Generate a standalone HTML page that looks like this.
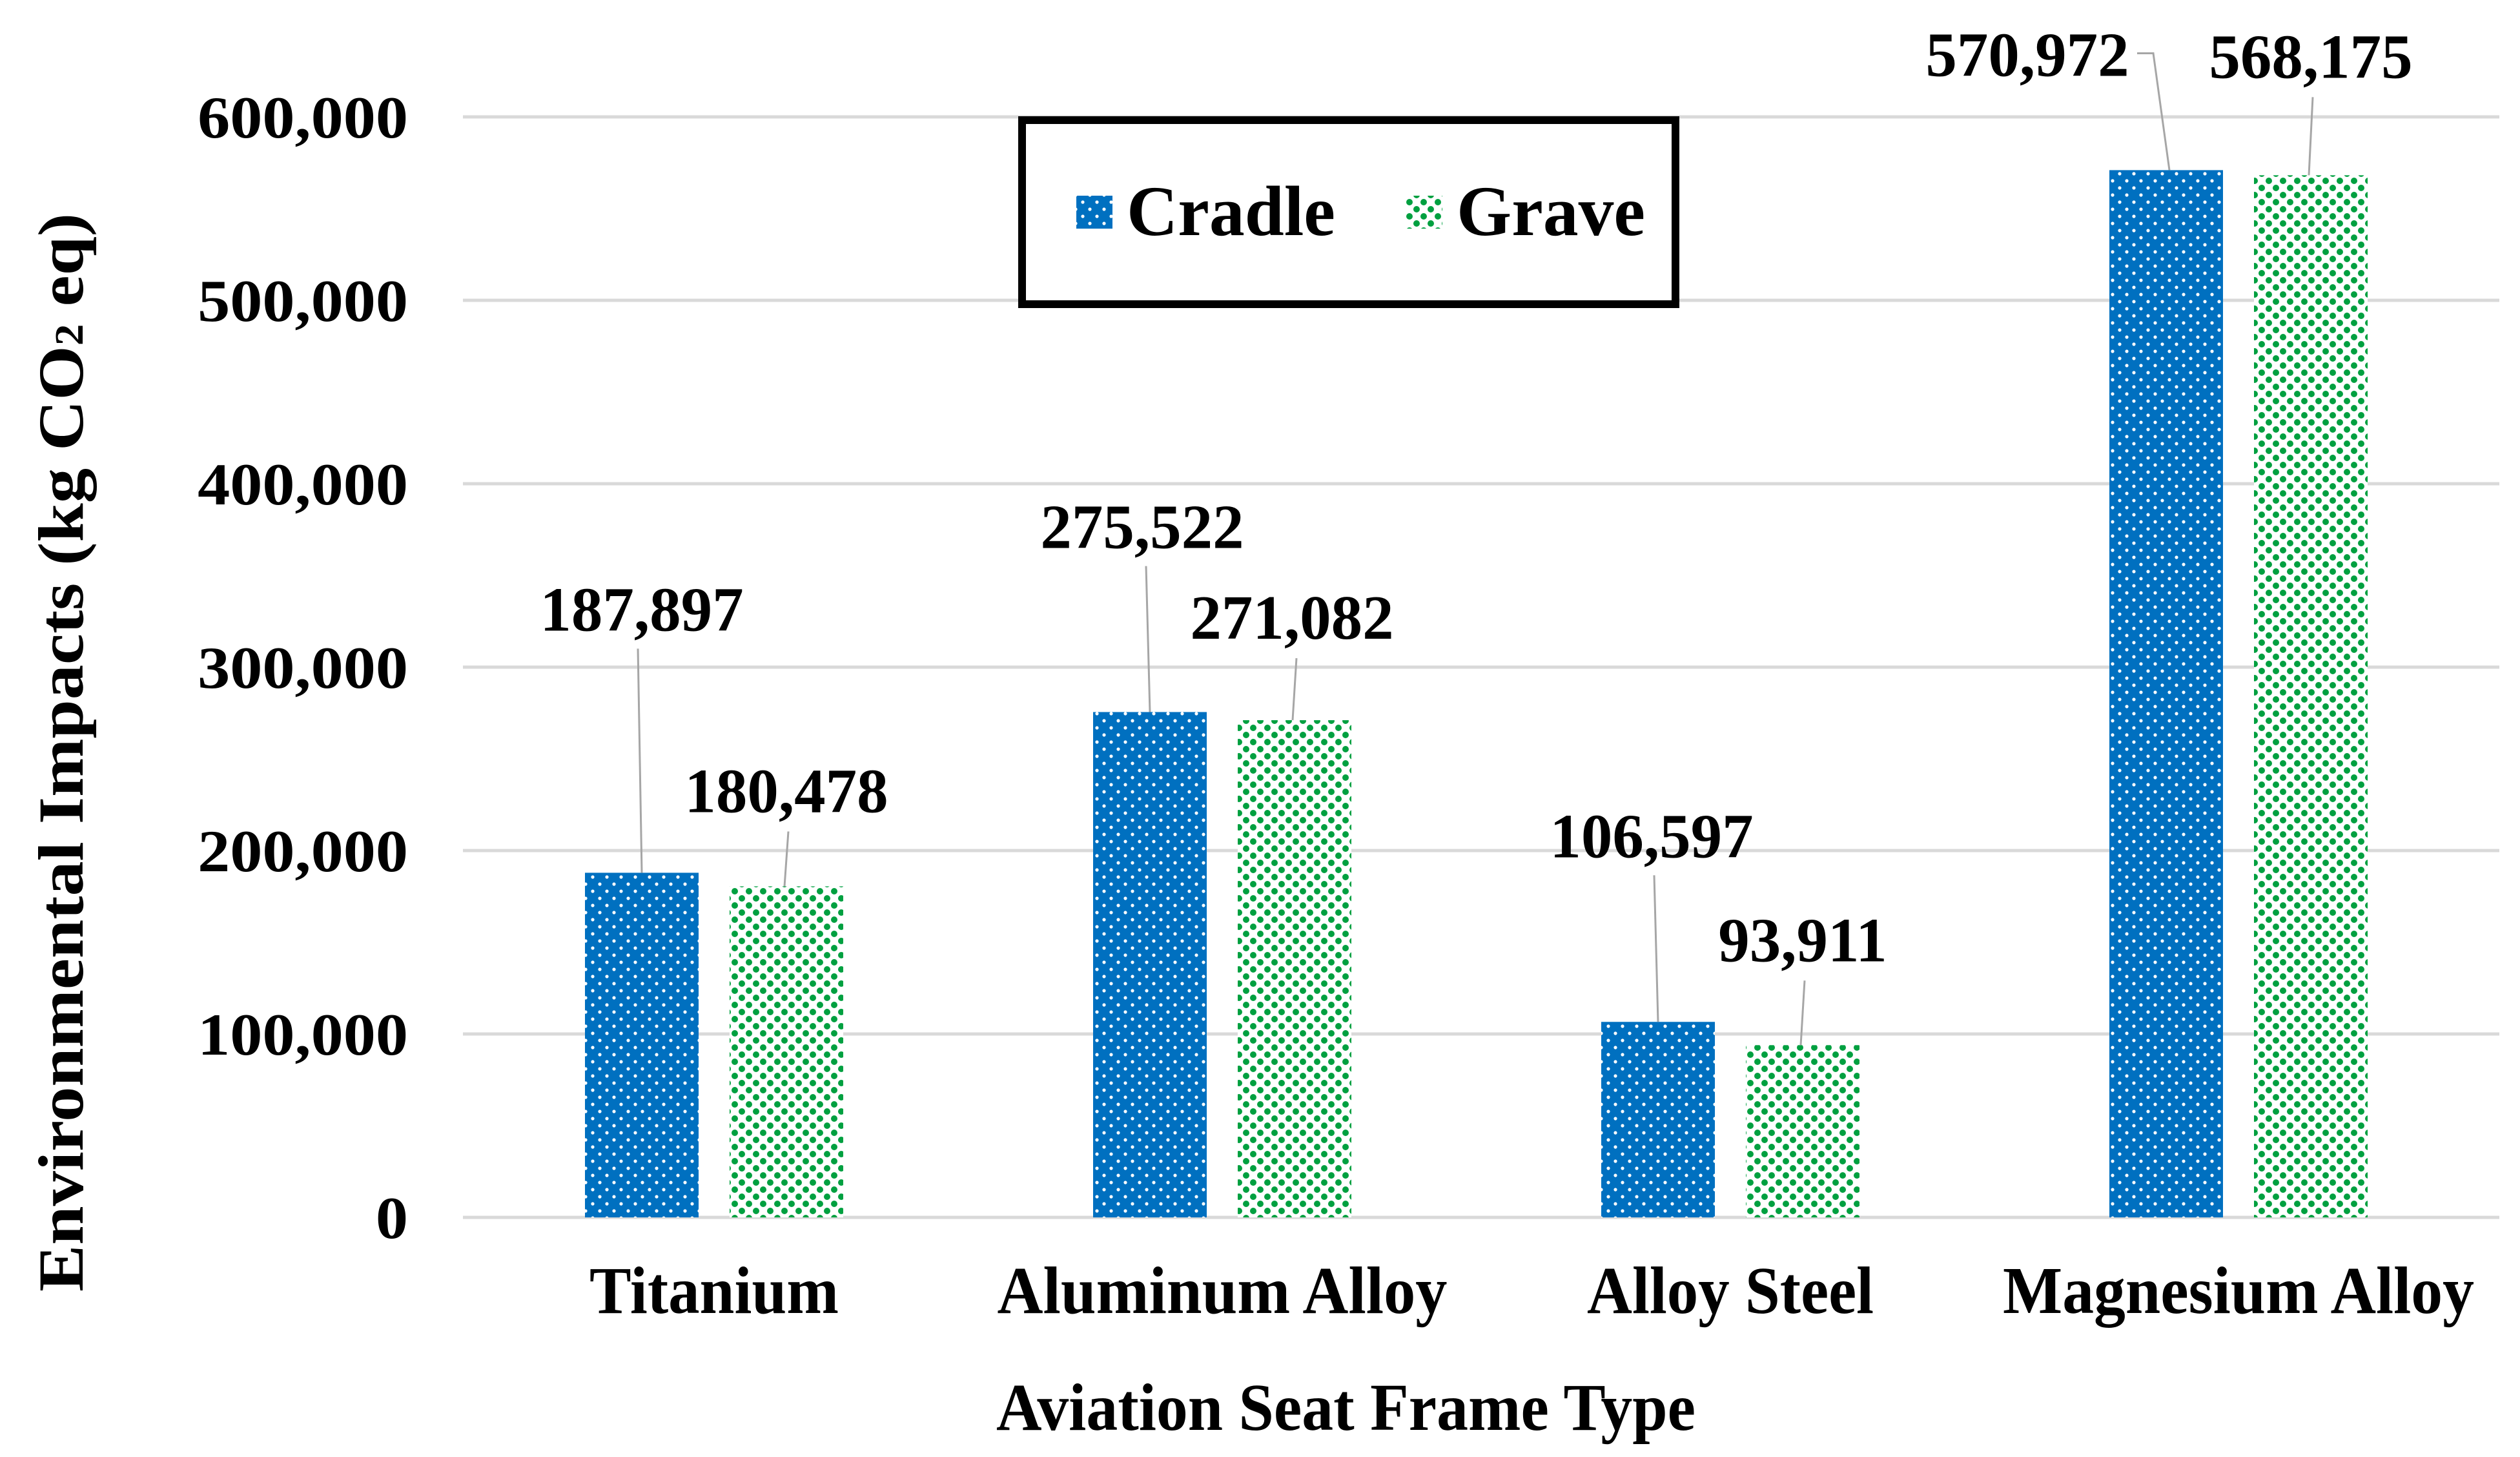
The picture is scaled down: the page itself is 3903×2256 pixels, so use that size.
<!DOCTYPE html>
<html><head><meta charset="utf-8"><style>
html,body{margin:0;padding:0;background:#fff;}
svg{display:block;}
text{font-family:"Liberation Serif",serif;font-weight:bold;fill:#000;}
</style></head><body>
<svg id="chart" width="3903" height="2256" viewBox="0 0 3903 2256" xmlns="http://www.w3.org/2000/svg">
<defs>
<pattern id="pBlue" patternUnits="userSpaceOnUse" width="22" height="22">
<rect width="22" height="22" fill="#0070C0"/>
<circle cx="5" cy="5" r="2.6" fill="#fff"/><circle cx="16" cy="16" r="2.6" fill="#fff"/>
</pattern>
<pattern id="pGreen" patternUnits="userSpaceOnUse" width="22" height="22">
<rect width="22" height="22" fill="#fff"/>
<circle cx="5" cy="5" r="5" fill="#00A040"/><circle cx="16" cy="16" r="5" fill="#00A040"/>
</pattern>
</defs>
<g id="grid"></g>
<g id="bars"></g>
<g id="labels"></g>
<g id="ticks"></g>
<g id="cats"></g>
<text x="1543" y="2214" font-size="104" textLength="1083" lengthAdjust="spacingAndGlyphs">Aviation Seat Frame Type</text>
<text transform="translate(128,1165) rotate(-90)" text-anchor="middle" font-size="100" textLength="1670" lengthAdjust="spacingAndGlyphs">Environmental Impacts (kg CO<tspan font-size="62">2</tspan> eq)</text>
<g>
<rect x="1583" y="186" width="1012" height="285" fill="#fff" stroke="#000" stroke-width="12"/>
<rect x="1667" y="303" width="56" height="51" fill="url(#pBlue)"/>
<text x="1745" y="364" font-size="110" textLength="323" lengthAdjust="spacingAndGlyphs">Cradle</text>
<rect x="2178" y="303" width="56" height="51" fill="url(#pGreen)"/>
<text x="2256" y="364" font-size="110" textLength="292" lengthAdjust="spacingAndGlyphs">Grave</text>
</g>
</svg>
<script>
const categories = ["Titanium", "Aluminum Alloy", "Alloy Steel", "Magnesium Alloy"];
const cradleValues = [187897, 275522, 106597, 570972];
const graveValues = [180478, 271082, 93911, 568175];
const tickValues = [0, 100000, 200000, 300000, 400000, 500000, 600000];
const tickLabels = ["0", "100,000", "200,000", "300,000", "400,000", "500,000", "600,000"];

const NS = "http://www.w3.org/2000/svg";
const plotL = 717, plotR = 3871, y0 = 1885, pxPer = 284 / 100000;
const catW = 787, firstC = 1106;
function yScale(v){ return y0 - v * pxPer; }
function xCenter(i){ return firstC + i * catW; }
function fmt(v){ return v.toLocaleString("en-US"); }
function mk(tag, attrs, parent){ const e = document.createElementNS(NS, tag); for (const k in attrs) e.setAttribute(k, attrs[k]); parent.appendChild(e); return e; }

const grid = document.getElementById("grid");
const ticks = document.getElementById("ticks");
tickValues.forEach((v, i) => {
  const y = yScale(v);
  const l = mk("line", {x1: plotL, x2: plotR, y1: y, y2: y, stroke: "#d9d9d9", "stroke-width": 5}, grid);
  
  
  const t = mk("text", {transform: `translate(632,${y + 32}) scale(1.09,1)`, "text-anchor": "end", "font-size": 92}, ticks);
  t.textContent = tickLabels[i];
  
  
});

const bars = document.getElementById("bars");
const labels = document.getElementById("labels");
const cats = document.getElementById("cats");
const bw = 176;
const catWidths = [386, 697, 444, 730];
// label offsets relative to bar center (dx) and above bar top (dy)
const cradleLabelOff = [[0, 375], [-12, 254], [-10, 255], [-215, 146]];
const graveLabelOff = [[0, 115], [-4, 126], [0, 130], [0, 151]];
categories.forEach((c, i) => {
  const cx = xCenter(i);
  const bx = cx - 200, gx = cx + 24;
  const by = yScale(cradleValues[i]), gy = yScale(graveValues[i]);
  const r1 = mk("rect", {x: bx, y: by, width: bw, height: y0 - by, fill: "url(#pBlue)"}, bars);
  
  
  const r2 = mk("rect", {x: gx, y: gy, width: bw, height: y0 - gy, fill: "url(#pGreen)"}, bars);
  
  

  const bcx = bx + bw / 2, gcx = gx + bw / 2;
  const co = cradleLabelOff[i];
  const cly = by - co[1];
  const ctext = mk("text", {x: bcx + co[0], y: cly, "text-anchor": "middle", "font-size": 97}, labels);
  ctext.textContent = fmt(cradleValues[i]);
  
  
  let cl;
  if (i === 3) {
    cl = mk("polyline", {points: `${bcx - 45},${cly - 35} ${bcx - 20},${cly - 35} ${bcx + 5},${by}`, fill: "none", stroke: "#a6a6a6", "stroke-width": 3}, labels);
  } else {
    cl = mk("line", {x1: bcx - 6, y1: cly + 28, x2: bcx, y2: by, stroke: "#a6a6a6", "stroke-width": 3}, labels);
  }
  
  
  const go = graveLabelOff[i];
  const gly = gy - go[1];
  const gtext = mk("text", {x: gcx + go[0], y: gly, "text-anchor": "middle", "font-size": 97}, labels);
  gtext.textContent = fmt(graveValues[i]);
  
  
  const gl = mk("line", {x1: gcx + 3, y1: gly + 30, x2: gcx - 3, y2: gy, stroke: "#a6a6a6", "stroke-width": 3}, labels);
  
  

  const ct = mk("text", {x: cx, y: 2033, "text-anchor": "middle", "font-size": 104, textLength: catWidths[i], lengthAdjust: "spacingAndGlyphs"}, cats);
  ct.textContent = c;
  
  
});
</script>
</body></html>
